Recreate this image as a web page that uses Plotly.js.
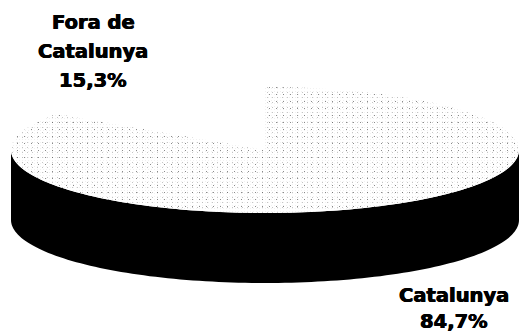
<!DOCTYPE html>
<html>
<head>
<meta charset="utf-8">
<script src="https://cdn.plot.ly/plotly-3.0.1.min.js"></script>
<style>html,body{margin:0;padding:0;background:#fff;overflow:hidden}</style>
</head>
<body>
<div id="chart" style="width:521px;height:333px"></div>
<script>
// Share of the total by origin, in percent
const categories = ['Fora de Catalunya', 'Catalunya'];
const shares = [15.3, 84.7];
const labelLines = [['Fora de', 'Catalunya', '15,3%'], ['Catalunya', '84,7%']];

// Disc geometry on the plot's axes
const cx = 265, cy = 150, rx = 254, ry = 63, depth = 70;

const total = shares.reduce((a, b) => a + b, 0);

function rimPoint(turn, drop) {
  const t = turn * 2 * Math.PI;
  return [cx + rx * Math.sin(t), cy - ry * Math.cos(t) + drop];
}

// Sector of the top face between two fractions of a full turn, counted from 12 o'clock
function sector(from, to) {
  const xs = [cx], ys = [cy];
  const steps = Math.ceil((to - from) * 240);
  for (let i = 0; i <= steps; i++) {
    const p = rimPoint(from + (to - from) * i / steps, 0);
    xs.push(p[0]); ys.push(p[1]);
  }
  xs.push(cx); ys.push(cy);
  return {xs, ys};
}

// Visible wall: front half of the rim, from the right extreme round to the left one
function wall() {
  const xs = [], ys = [];
  for (let i = 0; i <= 120; i++) {
    const p = rimPoint(0.25 + 0.5 * i / 120, 0);
    xs.push(p[0]); ys.push(p[1]);
  }
  for (let i = 120; i >= 0; i--) {
    const p = rimPoint(0.25 + 0.5 * i / 120, depth);
    xs.push(p[0]); ys.push(p[1]);
  }
  return {xs, ys};
}

const outside = shares[0] / total;
const whiteWedge = sector(1 - outside, 1);
const greyWedge = sector(0, 1 - outside);
const side = wall();

// Fine stipple on the larger sector, built from overlaid dot lattices
function grain(size, solidity, colour) {
  return {
    type: 'scatter', mode: 'none', x: greyWedge.xs, y: greyWedge.ys, fill: 'toself',
    fillcolor: 'rgba(255,255,255,0)',
    fillpattern: {shape: '.', size: size, solidity: solidity, fgcolor: colour, bgcolor: 'rgba(255,255,255,0)'},
    hoverinfo: 'skip', showlegend: false
  };
}

const traces = [
  {type: 'scatter', mode: 'none', x: side.xs, y: side.ys, fill: 'toself', fillcolor: '#000',
   name: 'wall', hoverinfo: 'skip', showlegend: false},
  {type: 'scatter', mode: 'none', x: whiteWedge.xs, y: whiteWedge.ys, fill: 'toself', fillcolor: '#fff',
   name: categories[0], showlegend: false},
  {type: 'scatter', mode: 'none', x: greyWedge.xs, y: greyWedge.ys, fill: 'toself', fillcolor: '#fff',
   name: categories[1], showlegend: false},
  grain(3, 0.03, '#bbbbbb'),
  grain(5, 0.025, '#888888'),
  grain(7, 0.016, '#444444')
];

// One annotation per text line so the line spacing can be set
function lineNotes(lines, x, firstY, step) {
  return lines.map((text, i) => ({
    text: '<b>' + text + '</b>', x: x, y: firstY + i * step, xref: 'x', yref: 'y',
    showarrow: false, xanchor: 'center', yanchor: 'middle',
    font: {family: 'DejaVu Sans, Verdana, sans-serif', size: 19.5, color: '#000',
           shadow: '0.5px 0 0 #000, -0.4px 0 0 #000'}
  }));
}

const layout = {
  width: 521, height: 333,
  margin: {l: 0, r: 0, t: 0, b: 0},
  paper_bgcolor: '#fff', plot_bgcolor: '#fff',
  xaxis: {range: [0, 521], visible: false, fixedrange: true},
  yaxis: {range: [333, 0], visible: false, fixedrange: true},
  annotations: lineNotes(labelLines[0], 93, 22, 29).concat(lineNotes(labelLines[1], 454, 295, 26))
};

Plotly.newPlot('chart', traces, layout, {displayModeBar: false, staticPlot: true});
</script>
</body>
</html>
